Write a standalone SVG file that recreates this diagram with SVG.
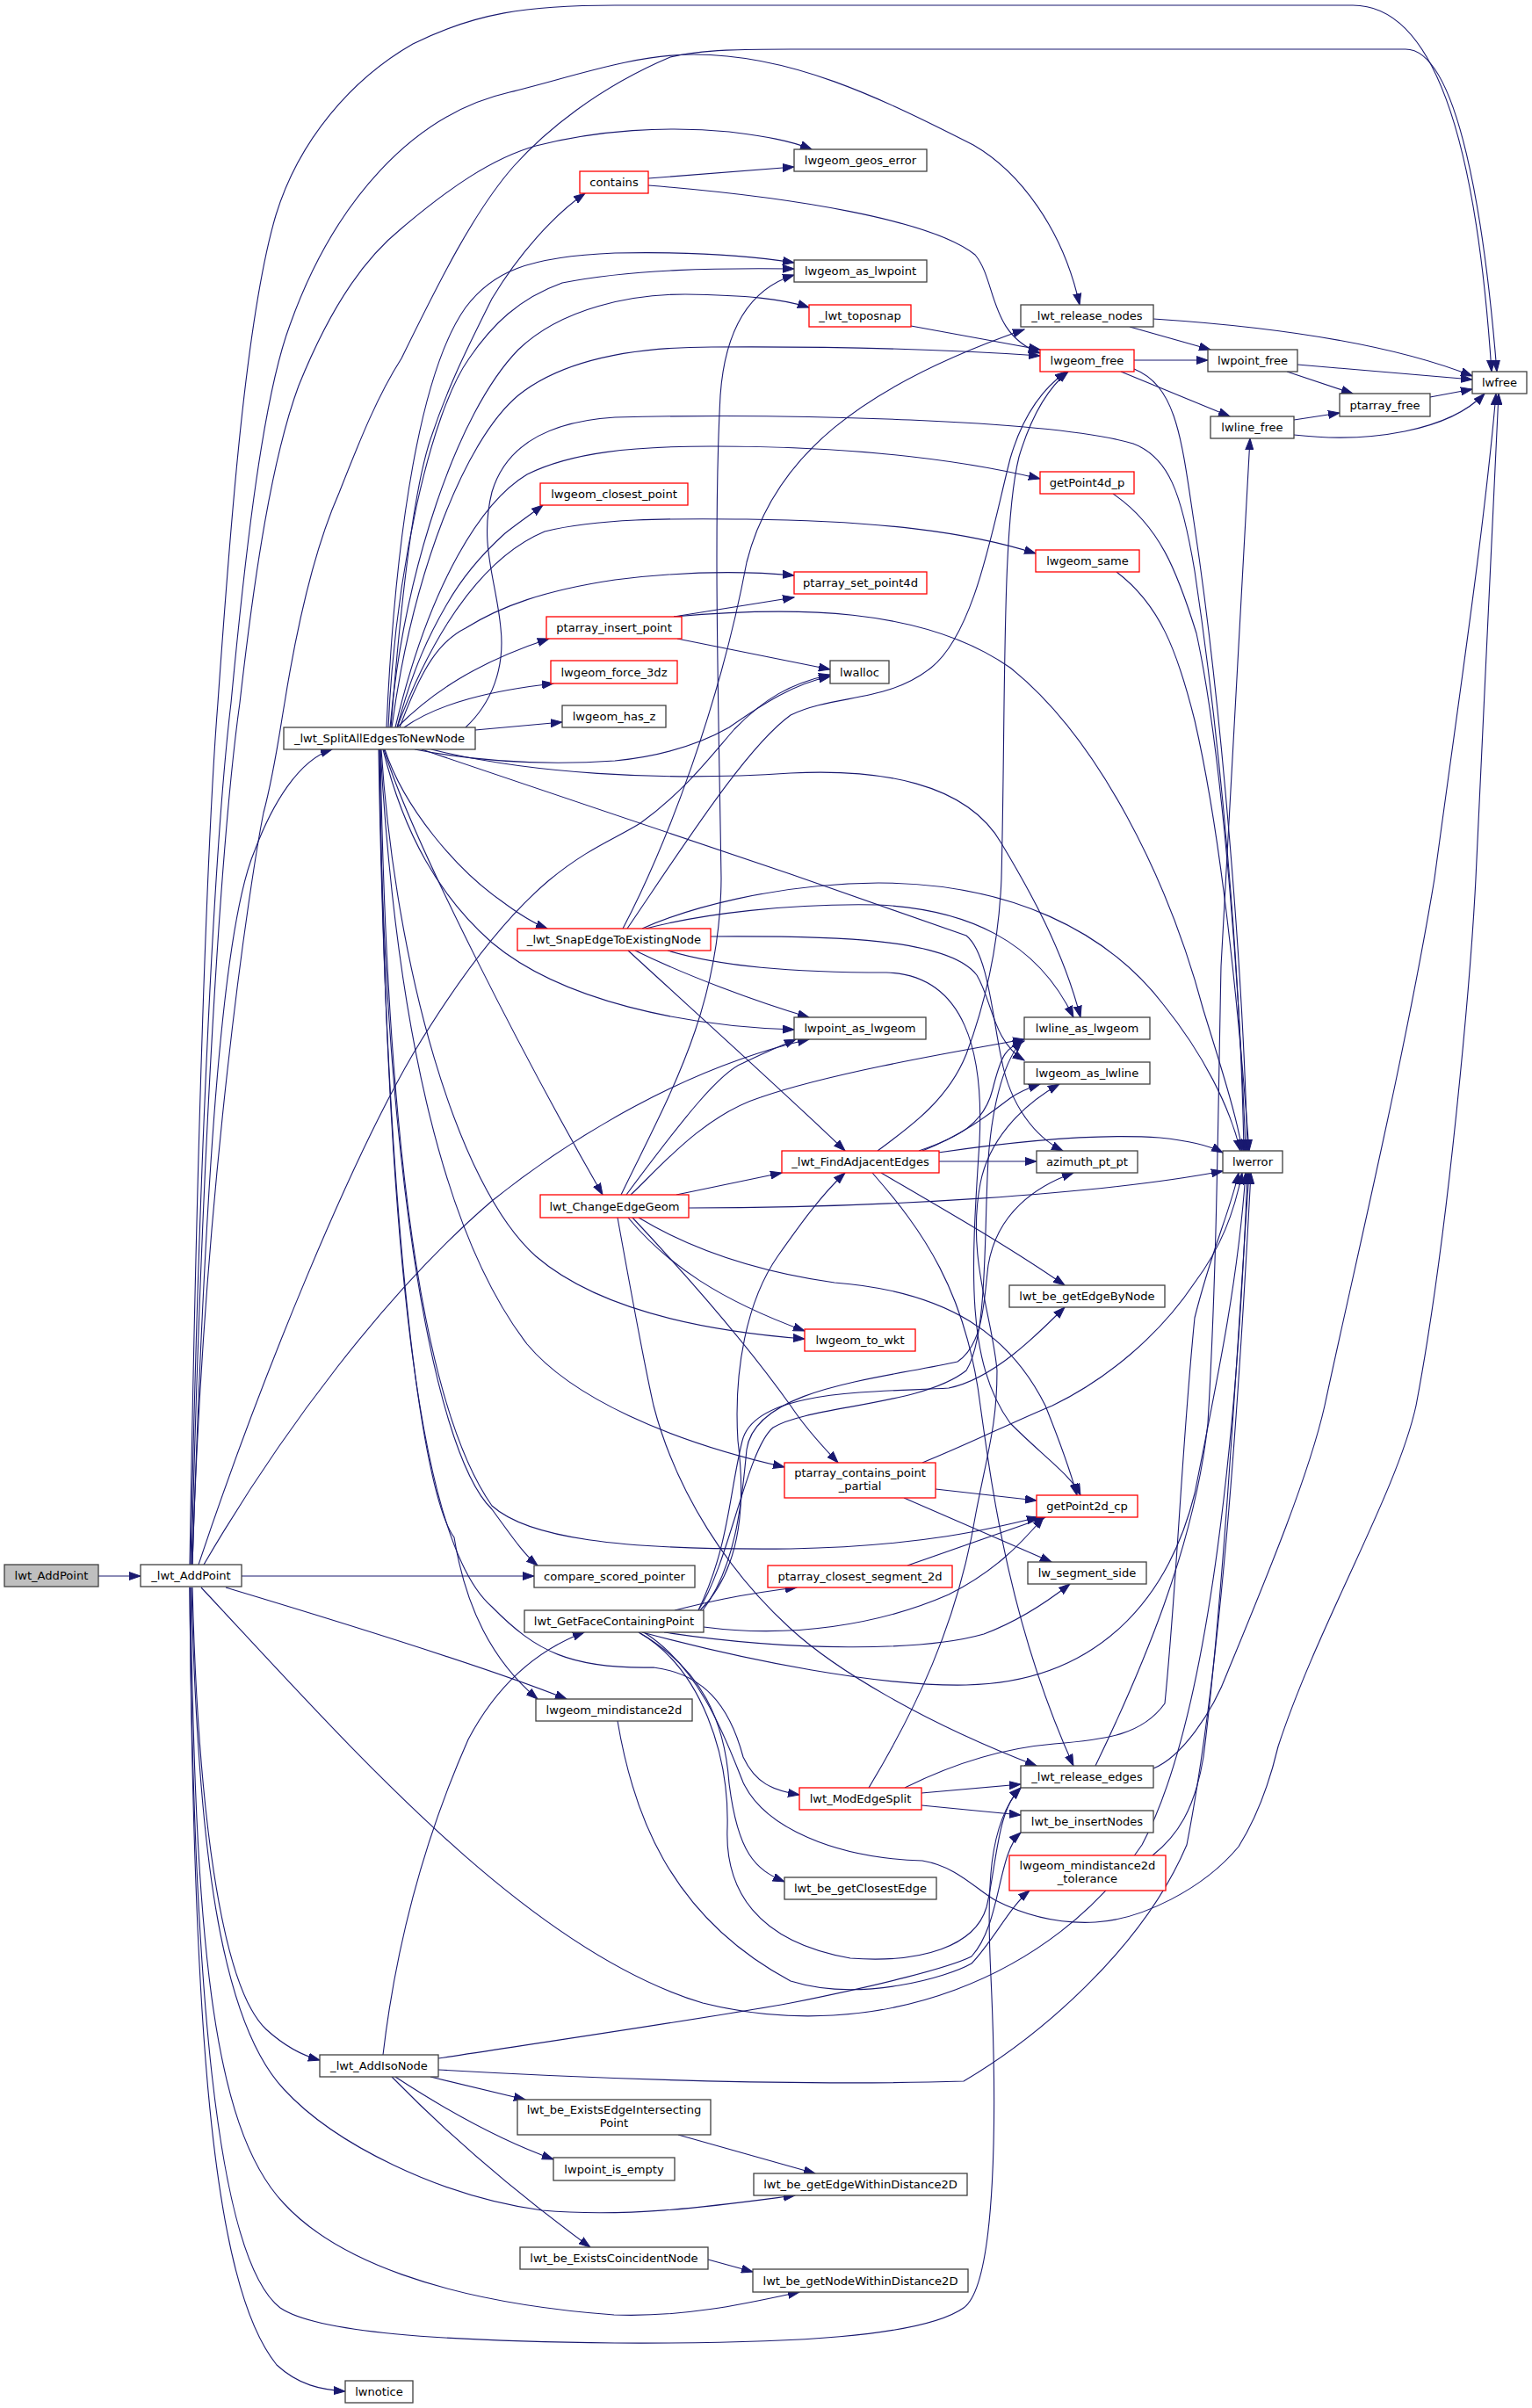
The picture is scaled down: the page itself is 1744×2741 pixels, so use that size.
<svg xmlns="http://www.w3.org/2000/svg" width="1744" height="2741" viewBox="0 0 1744 2741">
<style>
.n rect{fill:#fff;stroke:#404040;stroke-width:1.3}
.r rect{fill:#fff;stroke:#ff0000;stroke-width:1.3}
.root rect{fill:#bfbfbf;stroke:#404040;stroke-width:1.3}
text{font-family:"DejaVu Sans","Liberation Sans",sans-serif;font-size:13.1px;text-anchor:middle;fill:#000}
#edges path{fill:none;stroke:#191970;stroke-width:1.1;marker-end:url(#a)}
</style>
<defs>
<marker id="a" markerUnits="userSpaceOnUse" markerWidth="14" markerHeight="10" refX="13" refY="5" orient="auto">
<path d="M0,0.5 L13,5 L0,9.5 z" fill="#191970" stroke="#191970" stroke-width="1"/>
</marker>
</defs>
<rect width="1744" height="2741" fill="#fff"/>
<g id="edges">
<path d="M112,1794 L160,1794"/>
<path d="M219,1781 C235,1300 255,1050 290,968 C310,915 340,865 378,853"/>
<path d="M216,1781 C224,1300 236,950 248,800 C262,600 280,360 314,245 C340,160 400,90 470,50 C540,15 600,6 700,6 L1540,6 C1630,6 1680,150 1698,423"/>
<path d="M217,1781 C227,1300 245,950 263,800 C280,620 300,450 330,370 C380,230 470,130 580,105 C650,88 720,62 790,62 C900,62 1000,110 1108,165 C1160,195 1210,260 1229,347"/>
<path d="M218,1781 C230,1300 252,950 273,800 C290,650 310,520 340,439 C380,340 420,290 457,260 C510,215 560,180 610,166 C680,148 760,143 830,150 C870,155 900,160 924,170"/>
<path d="M219,1781 C232,1350 285,1000 300,925 C312,880 318,835 324,800 C340,700 360,620 386,561 C410,500 430,450 457,408 C500,320 540,240 585,189 C620,150 680,100 763,65 C800,56 850,56 900,56 L1600,56 C1660,56 1690,250 1704,423"/>
<path d="M226,1781 C300,1560 400,1320 470,1200 C530,1100 580,1040 625,1002 C670,965 700,955 729,937 C780,900 810,860 836,830 C870,795 900,778 945,768"/>
<path d="M232,1781 C320,1630 440,1470 560,1367 C650,1295 780,1215 921,1183"/>
<path d="M275,1794 L608,1794"/>
<path d="M257,1807 C400,1850 560,1900 645,1934"/>
<path d="M219,1807 C225,2050 250,2260 303,2310 C325,2330 345,2340 364,2345"/>
<path d="M218,1807 C225,2100 250,2300 323,2378 C380,2440 500,2500 617,2516 C720,2525 820,2510 905,2499"/>
<path d="M217,1807 C222,2200 240,2420 323,2508 C380,2570 500,2620 699,2635 C780,2638 850,2622 910,2609"/>
<path d="M216,1807 C220,2300 240,2600 315,2692 C340,2715 365,2720 393,2722"/>
<path d="M216,1807 C220,2250 245,2570 319,2627 C360,2655 500,2665 700,2667 C900,2668 1050,2660 1097,2627 C1135,2600 1135,2400 1128,2250 C1123,2150 1125,2075 1162,2035"/>
<path d="M229,1807 C400,1990 600,2220 800,2280 C1000,2330 1200,2250 1300,2100 C1380,1950 1410,1600 1420,1335"/>
<path d="M445,828 C455,700 470,560 490,500 C510,440 530,400 560,340 C590,290 630,245 666,220"/>
<path d="M440,828 C450,600 480,420 530,350 C560,310 600,292 700,288 C800,286 860,292 904,299"/>
<path d="M442,828 C450,650 490,470 534,408 C560,370 590,340 640,322 C720,306 820,305 904,306"/>
<path d="M444,828 C460,650 520,470 590,398 C640,350 720,335 780,335 C850,336 890,340 921,350"/>
<path d="M446,828 C470,650 530,500 590,450 C640,410 720,395 810,395 C950,394 1080,398 1184,405"/>
<path d="M530,828 C560,800 575,760 570,715 C565,660 545,620 560,560 C575,510 620,480 700,475 C900,470 1200,478 1290,505 C1330,520 1345,560 1360,650 C1390,850 1412,1100 1416,1310"/>
<path d="M450,828 C490,660 550,570 600,540 C650,515 720,508 810,508 C950,508 1080,520 1184,545"/>
<path d="M452,828 C470,760 490,720 508,689 C530,650 555,625 575,607 C590,595 605,585 618,575"/>
<path d="M452,828 C500,700 560,630 620,605 C680,590 760,590 850,591 C1000,593 1100,605 1179,630"/>
<path d="M455,828 C480,760 500,730 530,715 C570,690 620,672 700,660 C780,650 850,650 904,655"/>
<path d="M452,828 C490,790 540,755 625,727"/>
<path d="M460,828 C500,800 560,786 630,778"/>
<path d="M541,831 L640,822"/>
<path d="M472,853 C560,870 640,870 700,866 C760,860 800,845 830,828 C870,800 905,778 945,770"/>
<path d="M491,853 C600,880 750,890 900,880 C1000,875 1100,890 1140,960 C1170,1010 1210,1080 1230,1158"/>
<path d="M480,853 L900,995 C1000,1030 1080,1058 1100,1065 C1125,1085 1130,1160 1140,1205 C1150,1260 1180,1295 1210,1310"/>
<path d="M436,853 C460,950 500,1020 560,1073 C640,1140 780,1168 904,1172"/>
<path d="M438,853 C460,920 520,990 570,1025 C590,1040 605,1050 623,1057"/>
<path d="M437,853 C470,960 600,1210 686,1360"/>
<path d="M434,853 C450,1100 520,1350 610,1430 C680,1490 800,1515 916,1524"/>
<path d="M433,853 C450,1150 500,1400 600,1530 C650,1590 760,1640 893,1670"/>
<path d="M433,853 C440,1300 480,1600 560,1714 C600,1750 700,1765 900,1763 C1050,1760 1130,1740 1182,1727"/>
<path d="M432,853 C435,1300 490,1650 560,1718 C580,1745 595,1768 612,1782"/>
<path d="M431,853 C440,1400 480,1700 517,1750 C530,1830 560,1890 612,1934"/>
<path d="M432,853 C440,1450 480,1760 560,1829 C610,1880 650,1900 744,1898 C800,1905 830,1940 846,2000 C860,2030 880,2038 910,2043"/>
<path d="M709,1057 C760,960 820,800 850,640 C880,520 980,440 1166,375"/>
<path d="M714,1057 C780,960 850,850 900,814 C950,790 1010,800 1060,760 C1110,720 1130,600 1150,522 C1165,470 1190,440 1214,423"/>
<path d="M735,1057 C800,1040 900,1028 1000,1030 C1100,1035 1180,1070 1222,1158"/>
<path d="M731,1057 C780,1035 880,1006 1000,1005 C1150,1005 1260,1060 1324,1143 C1370,1200 1400,1260 1412,1310"/>
<path d="M809,1066 C950,1065 1080,1068 1112,1110 C1130,1140 1130,1185 1166,1207"/>
<path d="M723,1082 C780,1110 860,1140 921,1158"/>
<path d="M715,1082 C800,1160 900,1250 962,1310"/>
<path d="M760,1082 C820,1100 900,1107 1009,1107 C1100,1110 1120,1200 1115,1300 C1105,1450 1100,1550 1150,1620 C1190,1660 1220,1680 1230,1702"/>
<path d="M707,1360 C760,1250 820,1150 821,1000 C818,800 812,600 820,450 C825,380 850,330 904,313"/>
<path d="M713,1360 C780,1270 820,1220 846,1210 C870,1198 890,1190 906,1183"/>
<path d="M718,1360 C750,1330 800,1270 866,1249 C950,1220 1100,1195 1166,1183"/>
<path d="M770,1360 L890,1335"/>
<path d="M784,1375 C1000,1375 1250,1360 1392,1333"/>
<path d="M715,1386 C760,1440 820,1480 916,1515"/>
<path d="M720,1386 C780,1450 850,1530 900,1600 C920,1630 940,1650 954,1665"/>
<path d="M727,1386 C800,1430 880,1450 950,1460 C1080,1470 1150,1520 1190,1600 C1210,1650 1220,1680 1226,1702"/>
<path d="M703,1386 C720,1480 735,1560 744,1600 C770,1700 830,1790 899,1853 C950,1900 1050,1960 1180,2010"/>
<path d="M999,1310 C1040,1280 1080,1250 1100,1200 C1130,1120 1138,1050 1140,1000 C1145,800 1140,600 1160,520 C1175,470 1195,440 1216,423"/>
<path d="M1046,1310 C1090,1295 1120,1280 1130,1240 C1140,1200 1145,1192 1166,1185"/>
<path d="M1050,1310 C1100,1290 1130,1265 1150,1250 C1160,1243 1172,1238 1184,1234"/>
<path d="M1069,1322 L1180,1322"/>
<path d="M1068,1312 C1150,1300 1250,1290 1320,1295 C1350,1298 1375,1303 1392,1312"/>
<path d="M1003,1335 C1080,1380 1150,1420 1212,1463"/>
<path d="M993,1335 C1050,1400 1100,1470 1116,1600 C1130,1700 1150,1850 1222,2010"/>
<path d="M768,1833 C800,1825 840,1815 907,1807"/>
<path d="M797,1833 C840,1790 850,1720 840,1640 C835,1560 850,1480 886,1429 C910,1395 935,1360 962,1335"/>
<path d="M795,1833 C830,1780 850,1650 880,1625 C920,1600 1050,1600 1100,1560 C1125,1520 1120,1400 1125,1320 C1130,1250 1145,1205 1164,1184"/>
<path d="M795,1833 C830,1760 830,1700 845,1640 C860,1580 1000,1585 1080,1580 C1130,1570 1180,1520 1212,1488"/>
<path d="M800,1833 C840,1780 845,1700 850,1650 C860,1580 1000,1570 1090,1550 C1120,1530 1120,1480 1125,1440 C1135,1380 1180,1350 1222,1335"/>
<path d="M801,1852 C900,1865 1000,1850 1080,1815 C1130,1790 1160,1760 1188,1727"/>
<path d="M756,1858 C900,1880 1050,1880 1120,1860 C1160,1845 1190,1825 1218,1803"/>
<path d="M731,1858 C850,1890 1000,1920 1100,1918 C1250,1915 1330,1820 1360,1700 C1390,1550 1410,1450 1418,1335"/>
<path d="M727,1858 C800,1900 825,1960 830,2030 C840,2110 860,2128 893,2142"/>
<path d="M727,1858 C800,1900 830,2000 828,2080 C825,2150 860,2210 968,2229 C1050,2235 1110,2215 1123,2171 C1135,2120 1135,2060 1162,2035"/>
<path d="M733,1858 C800,1900 830,1990 846,2029 C870,2080 950,2115 1050,2118 C1090,2125 1110,2150 1133,2163 C1170,2182 1210,2190 1247,2188 C1300,2185 1370,2150 1410,2102 C1430,2070 1445,2030 1455,1988 C1500,1850 1590,1700 1612,1600 C1650,1400 1675,1100 1680,1000 C1690,800 1700,600 1706,448"/>
<path d="M1049,2041 L1162,2031"/>
<path d="M1049,2055 L1162,2066"/>
<path d="M1030,2035 C1080,2010 1140,1990 1200,1985 C1260,1980 1300,1975 1326,1939 C1340,1800 1345,1650 1360,1500 C1380,1420 1400,1380 1410,1335"/>
<path d="M989,2035 C1040,1950 1090,1850 1111,1722 C1125,1650 1135,1620 1135,1560 C1130,1500 1100,1430 1116,1347 C1125,1300 1160,1260 1206,1234"/>
<path d="M1247,2010 C1300,1900 1360,1760 1375,1620 C1385,1450 1386,1300 1390,1100 C1405,850 1418,600 1423,499"/>
<path d="M1313,2013 C1345,2000 1380,1950 1398,1902 C1440,1800 1490,1680 1508,1600 C1540,1450 1600,1200 1633,1000 C1660,800 1690,600 1703,448"/>
<path d="M703,1959 C720,2060 760,2180 900,2255 C980,2280 1080,2250 1106,2235 C1130,2210 1150,2170 1172,2152"/>
<path d="M1312,2112 C1340,2090 1360,2060 1370,2000 C1395,1800 1410,1500 1422,1335"/>
<path d="M1050,1665 C1100,1645 1150,1620 1198,1600 C1260,1570 1320,1520 1360,1460 C1390,1420 1405,1380 1414,1335"/>
<path d="M1065,1695 L1180,1708"/>
<path d="M1029,1705 L1197,1778"/>
<path d="M1033,1782 L1190,1727"/>
<path d="M436,2339 C450,2220 480,2100 533,1980 C570,1910 620,1875 665,1858"/>
<path d="M499,2356 C650,2365 900,2375 1097,2369 C1180,2320 1300,2220 1351,2100 C1390,1900 1410,1600 1424,1335"/>
<path d="M499,2343 C650,2320 800,2298 900,2280 C1000,2260 1080,2240 1106,2227 C1140,2190 1135,2110 1162,2086"/>
<path d="M490,2364 L598,2390"/>
<path d="M450,2364 C520,2410 580,2440 630,2458"/>
<path d="M446,2364 C530,2450 620,2520 672,2558"/>
<path d="M772,2430 L928,2474"/>
<path d="M806,2572 L857,2586"/>
<path d="M738,203 L904,190"/>
<path d="M738,211 C900,224 1060,250 1110,290 C1135,320 1125,380 1184,402"/>
<path d="M1037,371 L1184,398"/>
<path d="M1286,372 L1378,398"/>
<path d="M1313,363 C1450,372 1580,390 1676,428"/>
<path d="M1291,410 L1375,410"/>
<path d="M1276,423 L1400,474"/>
<path d="M1291,420 C1340,440 1345,500 1360,600 C1390,800 1415,1100 1420,1310"/>
<path d="M1477,415 L1676,432"/>
<path d="M1465,423 L1540,448"/>
<path d="M1628,452 L1676,443"/>
<path d="M1473,478 L1525,470"/>
<path d="M1473,495 C1560,505 1650,490 1690,448"/>
<path d="M1267,562 C1320,598 1340,650 1362,721 C1390,850 1410,1100 1418,1310"/>
<path d="M1271,651 C1320,688 1340,740 1360,820 C1390,950 1410,1150 1422,1310"/>
<path d="M767,702 L904,680"/>
<path d="M771,727 L945,762"/>
<path d="M767,702 C900,690 1050,690 1150,760 C1250,840 1330,1000 1370,1150 C1395,1230 1410,1280 1414,1310"/>
</g>
<g id="lwt_AddPoint" class="root"><rect x="5" y="1781" width="107" height="25"/><text x="58.5" y="1798">lwt_AddPoint</text></g>
<g id="_lwt_AddPoint" class="n"><rect x="160" y="1781" width="115" height="25"/><text x="217.5" y="1798">_lwt_AddPoint</text></g>
<g id="_lwt_SplitAllEdgesToNewNode" class="n"><rect x="323" y="828" width="218" height="25"/><text x="432" y="845">_lwt_SplitAllEdgesToNewNode</text></g>
<g id="contains" class="r"><rect x="660" y="195" width="78" height="25"/><text x="699" y="212">contains</text></g>
<g id="lwgeom_geos_error" class="n"><rect x="904" y="170" width="151" height="25"/><text x="979.5" y="187">lwgeom_geos_error</text></g>
<g id="lwgeom_as_lwpoint" class="n"><rect x="904" y="296" width="151" height="25"/><text x="979.5" y="313">lwgeom_as_lwpoint</text></g>
<g id="_lwt_toposnap" class="r"><rect x="921" y="347" width="116" height="25"/><text x="979" y="364">_lwt_toposnap</text></g>
<g id="_lwt_release_nodes" class="n"><rect x="1162" y="347" width="151" height="25"/><text x="1237.5" y="364">_lwt_release_nodes</text></g>
<g id="lwgeom_free" class="r"><rect x="1184" y="398" width="107" height="25"/><text x="1237.5" y="415">lwgeom_free</text></g>
<g id="lwpoint_free" class="n"><rect x="1375" y="398" width="102" height="25"/><text x="1426" y="415">lwpoint_free</text></g>
<g id="lwfree" class="n"><rect x="1676" y="423" width="62" height="25"/><text x="1707" y="440">lwfree</text></g>
<g id="ptarray_free" class="n"><rect x="1525" y="448" width="103" height="26"/><text x="1576.5" y="465.5">ptarray_free</text></g>
<g id="lwline_free" class="n"><rect x="1378" y="474" width="95" height="25"/><text x="1425.5" y="491">lwline_free</text></g>
<g id="getPoint4d_p" class="r"><rect x="1184" y="537" width="107" height="25"/><text x="1237.5" y="554">getPoint4d_p</text></g>
<g id="lwgeom_closest_point" class="r"><rect x="615" y="550" width="168" height="25"/><text x="699" y="567">lwgeom_closest_point</text></g>
<g id="lwgeom_same" class="r"><rect x="1179" y="626" width="118" height="25"/><text x="1238" y="643">lwgeom_same</text></g>
<g id="ptarray_set_point4d" class="r"><rect x="904" y="651" width="151" height="25"/><text x="979.5" y="668">ptarray_set_point4d</text></g>
<g id="ptarray_insert_point" class="r"><rect x="622" y="702" width="154" height="25"/><text x="699" y="719">ptarray_insert_point</text></g>
<g id="lwalloc" class="n"><rect x="945" y="752" width="67" height="26"/><text x="978.5" y="769.5">lwalloc</text></g>
<g id="lwgeom_force_3dz" class="r"><rect x="627" y="752" width="144" height="26"/><text x="699" y="769.5">lwgeom_force_3dz</text></g>
<g id="lwgeom_has_z" class="n"><rect x="640" y="803" width="118" height="25"/><text x="699" y="820">lwgeom_has_z</text></g>
<g id="_lwt_SnapEdgeToExistingNode" class="r"><rect x="589" y="1057" width="220" height="25"/><text x="699" y="1074">_lwt_SnapEdgeToExistingNode</text></g>
<g id="lwpoint_as_lwgeom" class="n"><rect x="904" y="1158" width="150" height="25"/><text x="979" y="1175">lwpoint_as_lwgeom</text></g>
<g id="lwline_as_lwgeom" class="n"><rect x="1166" y="1158" width="143" height="25"/><text x="1237.5" y="1175">lwline_as_lwgeom</text></g>
<g id="lwgeom_as_lwline" class="n"><rect x="1166" y="1209" width="143" height="25"/><text x="1237.5" y="1226">lwgeom_as_lwline</text></g>
<g id="_lwt_FindAdjacentEdges" class="r"><rect x="890" y="1310" width="179" height="25"/><text x="979.5" y="1327">_lwt_FindAdjacentEdges</text></g>
<g id="azimuth_pt_pt" class="n"><rect x="1180" y="1310" width="115" height="25"/><text x="1237.5" y="1327">azimuth_pt_pt</text></g>
<g id="lwerror" class="n"><rect x="1392" y="1310" width="68" height="25"/><text x="1426" y="1327">lwerror</text></g>
<g id="lwt_ChangeEdgeGeom" class="r"><rect x="615" y="1360" width="169" height="26"/><text x="699.5" y="1377.5">lwt_ChangeEdgeGeom</text></g>
<g id="lwt_be_getEdgeByNode" class="n"><rect x="1149" y="1463" width="177" height="25"/><text x="1237.5" y="1480">lwt_be_getEdgeByNode</text></g>
<g id="lwgeom_to_wkt" class="r"><rect x="916" y="1513" width="126" height="25"/><text x="979" y="1530">lwgeom_to_wkt</text></g>
<g id="ptarray_contains_point_partial" class="r"><rect x="893" y="1665" width="172" height="40"/><text x="979" y="1681">ptarray_contains_point</text><text x="979" y="1696">_partial</text></g>
<g id="getPoint2d_cp" class="r"><rect x="1180" y="1702" width="115" height="25"/><text x="1237.5" y="1719">getPoint2d_cp</text></g>
<g id="lw_segment_side" class="n"><rect x="1170" y="1778" width="135" height="25"/><text x="1237.5" y="1795">lw_segment_side</text></g>
<g id="compare_scored_pointer" class="n"><rect x="608" y="1782" width="183" height="25"/><text x="699.5" y="1799">compare_scored_pointer</text></g>
<g id="ptarray_closest_segment_2d" class="r"><rect x="874" y="1782" width="210" height="25"/><text x="979" y="1799">ptarray_closest_segment_2d</text></g>
<g id="lwt_GetFaceContainingPoint" class="n"><rect x="597" y="1833" width="204" height="25"/><text x="699" y="1850">lwt_GetFaceContainingPoint</text></g>
<g id="lwgeom_mindistance2d" class="n"><rect x="610" y="1934" width="178" height="25"/><text x="699" y="1951">lwgeom_mindistance2d</text></g>
<g id="_lwt_release_edges" class="n"><rect x="1162" y="2010" width="151" height="25"/><text x="1237.5" y="2027">_lwt_release_edges</text></g>
<g id="lwt_ModEdgeSplit" class="r"><rect x="910" y="2035" width="139" height="25"/><text x="979.5" y="2052">lwt_ModEdgeSplit</text></g>
<g id="lwt_be_insertNodes" class="n"><rect x="1162" y="2061" width="151" height="25"/><text x="1237.5" y="2078">lwt_be_insertNodes</text></g>
<g id="lwgeom_mindistance2d_tolerance" class="r"><rect x="1149" y="2112" width="178" height="40"/><text x="1238" y="2128">lwgeom_mindistance2d</text><text x="1238" y="2143">_tolerance</text></g>
<g id="lwt_be_getClosestEdge" class="n"><rect x="893" y="2137" width="173" height="25"/><text x="979.5" y="2154">lwt_be_getClosestEdge</text></g>
<g id="_lwt_AddIsoNode" class="n"><rect x="364" y="2339" width="135" height="25"/><text x="431.5" y="2356">_lwt_AddIsoNode</text></g>
<g id="lwt_be_ExistsEdgeIntersectingPoint" class="n"><rect x="589" y="2390" width="220" height="40"/><text x="699" y="2406">lwt_be_ExistsEdgeIntersecting</text><text x="699" y="2421">Point</text></g>
<g id="lwpoint_is_empty" class="n"><rect x="630" y="2456" width="138" height="26"/><text x="699" y="2473.5">lwpoint_is_empty</text></g>
<g id="lwt_be_getEdgeWithinDistance2D" class="n"><rect x="858" y="2474" width="243" height="25"/><text x="979.5" y="2491">lwt_be_getEdgeWithinDistance2D</text></g>
<g id="lwt_be_ExistsCoincidentNode" class="n"><rect x="592" y="2558" width="214" height="25"/><text x="699" y="2575">lwt_be_ExistsCoincidentNode</text></g>
<g id="lwt_be_getNodeWithinDistance2D" class="n"><rect x="857" y="2583" width="245" height="26"/><text x="979.5" y="2600.5">lwt_be_getNodeWithinDistance2D</text></g>
<g id="lwnotice" class="n"><rect x="393" y="2710" width="77" height="25"/><text x="431.5" y="2727">lwnotice</text></g>
</svg>
